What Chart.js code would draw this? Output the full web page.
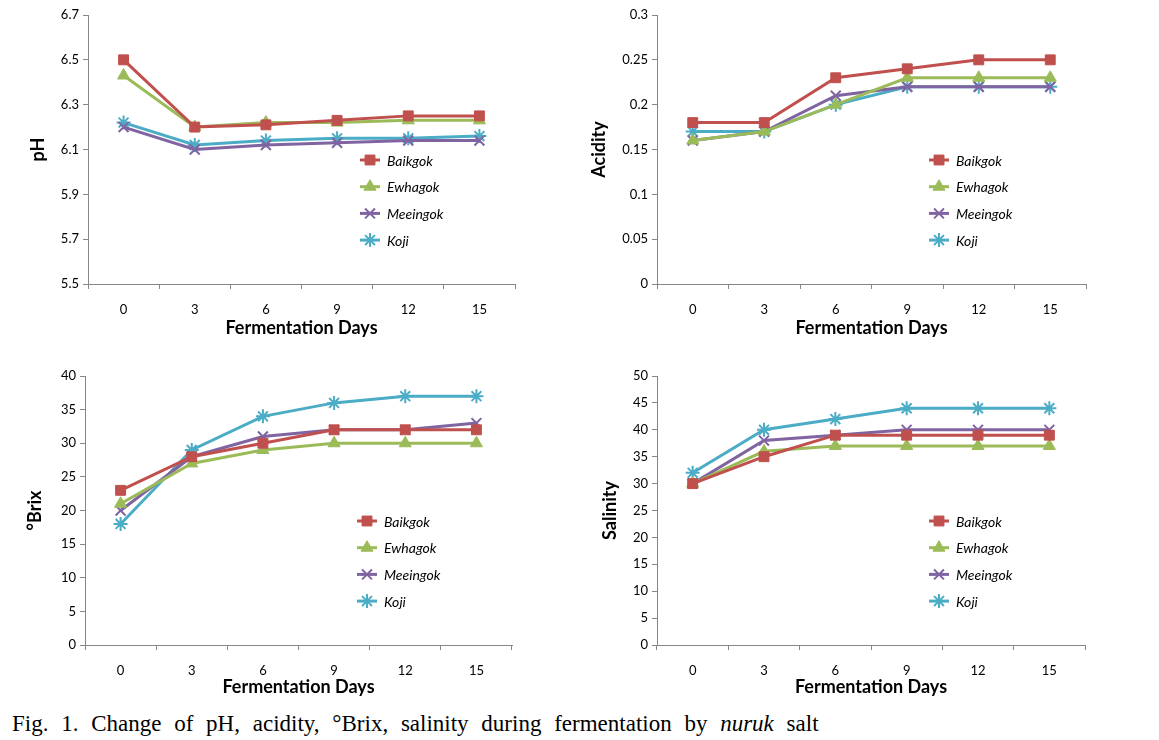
<!DOCTYPE html>
<html>
<head>
<meta charset="utf-8">
<script src="https://cdn.jsdelivr.net/npm/chart.js@4"></script>
<style>
  html, body { margin: 0; padding: 0; background: #fff; }
  body { width: 1159px; height: 740px; position: relative; overflow: hidden; }
  .box { position: absolute; width: 540px; height: 345px; }
  #caption { position: absolute; left: 12px; top: 712px; line-height: 1; font-family: "Liberation Serif", "Times New Roman", serif; font-size: 23px; color: #000; word-spacing: 7px; white-space: nowrap; }
</style>
</head>
<body>
<div class="box" style="left:0;top:0"><canvas id="c1" width="540" height="345"></canvas></div>
<div class="box" style="left:570px;top:0"><canvas id="c2" width="540" height="345"></canvas></div>
<div class="box" style="left:0;top:360px"><canvas id="c3" width="540" height="345"></canvas></div>
<div class="box" style="left:570px;top:360px"><canvas id="c4" width="540" height="345"></canvas></div>
<div id="caption">Fig. 1. Change of pH, acidity, °Brix, salinity during fermentation by <i>nuruk</i> salt</div>
<script>
const days = ["0", "3", "6", "9", "12", "15"];
const seriesNames = ["Baikgok", "Ewhagok", "Meeingok", "Koji"];
const seriesColors = ["#C0504D", "#9BBB59", "#8064A2", "#4BACC6"];
const seriesMarkers = ["rect", "triangle", "crossRot", "star"];

const phBaikgok = [6.50, 6.20, 6.21, 6.23, 6.25, 6.25];
const phEwhagok = [6.43, 6.20, 6.22, 6.22, 6.23, 6.23];
const phMeeingok = [6.20, 6.10, 6.12, 6.13, 6.14, 6.14];
const phKoji = [6.22, 6.12, 6.14, 6.15, 6.15, 6.16];

const acBaikgok = [0.18, 0.18, 0.23, 0.24, 0.25, 0.25];
const acEwhagok = [0.16, 0.17, 0.20, 0.23, 0.23, 0.23];
const acMeeingok = [0.16, 0.17, 0.21, 0.22, 0.22, 0.22];
const acKoji = [0.17, 0.17, 0.20, 0.22, 0.22, 0.22];

const brBaikgok = [23, 28, 30, 32, 32, 32];
const brEwhagok = [21, 27, 29, 30, 30, 30];
const brMeeingok = [20, 28, 31, 32, 32, 33];
const brKoji = [18, 29, 34, 36, 37, 37];

const saBaikgok = [30, 35, 39, 39, 39, 39];
const saEwhagok = [30, 36, 37, 37, 37, 37];
const saMeeingok = [30, 38, 39, 40, 40, 40];
const saKoji = [32, 40, 42, 44, 44, 44];

const FONT = "Lato, 'Open Sans', sans-serif";
const AXIS = "#868686";

const insideLegend = {
  id: 'insideLegend',
  afterDatasetsDraw(chart, args, opts) {
    const ctx = chart.ctx;
    const a = chart.chartArea;
    ctx.save();
    chart.data.datasets.forEach((ds, i) => {
      const y = a.top + opts.y + i * 26.7;
      const x0 = a.left + opts.x;
      ctx.strokeStyle = ds.borderColor;
      ctx.lineWidth = 3;
      ctx.beginPath();
      ctx.moveTo(x0, y);
      ctx.lineTo(x0 + 20, y);
      ctx.stroke();
      ctx.fillStyle = ds.backgroundColor;
      ctx.strokeStyle = ds.borderColor;
      ctx.lineWidth = ds.pointStyle === 'crossRot' || ds.pointStyle === 'star' ? 2 : 1;
      Chart.helpers.drawPoint(ctx, { pointStyle: ds.pointStyle, radius: 7, borderWidth: ctx.lineWidth, rotation: 0 }, x0 + 10, y);
      ctx.fillStyle = "#000";
      ctx.font = "italic 14px " + FONT;
      ctx.textBaseline = "middle";
      ctx.textAlign = "left";
      ctx.fillText(ds.label, x0 + 27, y + 1);
    });
    ctx.restore();
  }
};

function makeChart(id, title, arrays, yMin, yMax, yStep, decimals, pad) {
  const datasets = arrays.map((arr, i) => ({
    label: seriesNames[i],
    data: arr,
    borderColor: seriesColors[i],
    backgroundColor: seriesColors[i],
    pointStyle: seriesMarkers[i],
    pointRadius: 7,
    pointHoverRadius: 7,
    pointBorderWidth: (seriesMarkers[i] === 'crossRot' || seriesMarkers[i] === 'star') ? 2 : 1,
    borderWidth: 3,
    tension: 0,
    fill: false
  }));
  return new Chart(document.getElementById(id), {
    type: 'line',
    data: { labels: days, datasets },
    options: {
      responsive: false,
      animation: false,
      events: [],
      layout: { padding: { left: pad.titleLeft, right: pad.right, top: pad.top, bottom: 0 } },
      plugins: { legend: { display: false }, tooltip: { enabled: false }, insideLegend: { x: 272, y: 145 } },
      scales: {
        x: {
          type: 'category',
          offset: true,
          border: { display: true, color: AXIS, width: 1 },
          grid: { display: true, offset: true, drawOnChartArea: false, drawTicks: true, tickLength: 5, color: AXIS },
          ticks: { color: "#000", font: { family: FONT, size: 13 }, padding: 13, maxRotation: 0 },
          title: { display: true, text: "Fermentation Days", color: "#000", font: { family: FONT, size: 18, weight: 'bold' }, padding: { top: 0, bottom: pad.xTitleBottom } },
          afterFit(s) { s.height = 345 - pad.top - pad.areaH; }
        },
        y: {
          min: yMin, max: yMax,
          border: { display: true, color: AXIS, width: 1 },
          grid: { display: true, drawOnChartArea: false, drawTicks: true, tickLength: 5, color: AXIS },
          ticks: {
            stepSize: yStep,
            color: "#000", font: { family: FONT, size: 13 }, padding: 4,
            callback: (v) => decimals != null ? Number(v).toFixed(decimals) : String(Math.round(v * 1000) / 1000)
          },
          title: { display: true, text: title, color: "#000", font: { family: FONT, size: 18, weight: 'bold' }, padding: { top: 0, bottom: 0 } },
          afterFit(s) { s.width = pad.left - pad.titleLeft; }
        }
      }
    },
    plugins: [insideLegend]
  });
}

makeChart('c1', 'pH', [phBaikgok, phEwhagok, phMeeingok, phKoji], 5.5, 6.7, 0.2, 1, { left: 88, titleLeft: 27, right: 25, top: 15, areaH: 269, xTitleBottom: 6 });
makeChart('c2', 'Acidity', [acBaikgok, acEwhagok, acMeeingok, acKoji], 0, 0.3, 0.05, null, { left: 87, titleLeft: 18, right: 24, top: 15, areaH: 269, xTitleBottom: 6 });
makeChart('c3', '°Brix', [brBaikgok, brEwhagok, brMeeingok, brKoji], 0, 40, 5, null, { left: 85, titleLeft: 24, right: 28, top: 16, areaH: 269, xTitleBottom: 7 });
makeChart('c4', 'Salinity', [saBaikgok, saEwhagok, saMeeingok, saKoji], 0, 50, 5, null, { left: 87, titleLeft: 29, right: 25, top: 16, areaH: 269, xTitleBottom: 7 });
</script>
</body>
</html>
